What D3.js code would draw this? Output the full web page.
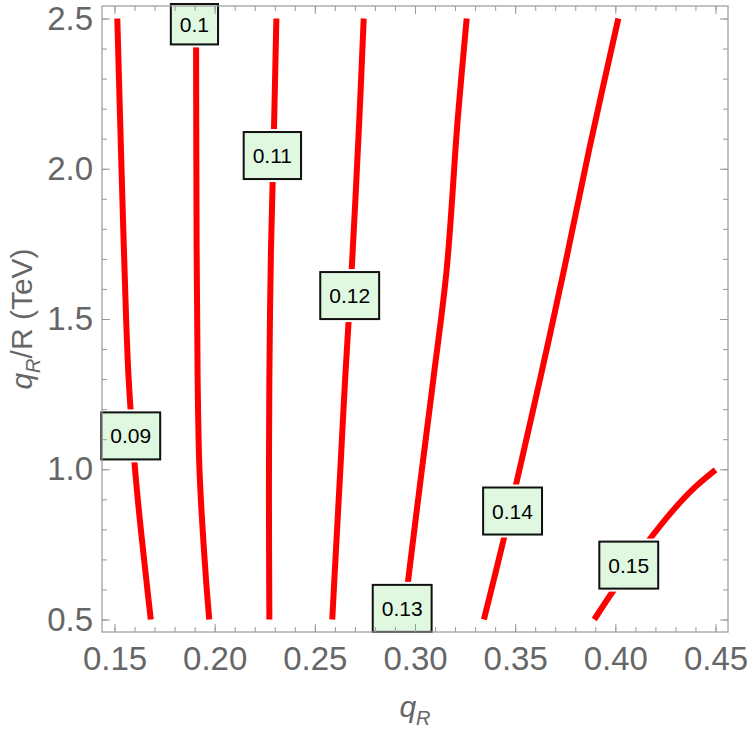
<!DOCTYPE html>
<html>
<head>
<meta charset="utf-8">
<title>contours in q_R vs q_R/R</title>
<script src="https://cdn.jsdelivr.net/npm/d3@7"></script>
<style>
  body { margin: 0; background: #fff; }
  svg { display: block; font-family: "Liberation Sans", Arial, sans-serif; }
</style>
</head>
<body>
<svg id="chart" width="750" height="730"></svg>
<script>
// contour lines: [q_R, q_R/R (TeV)]
var c009 = [[0.1681,0.5],[0.1659,0.631],[0.1641,0.741],[0.1623,0.854],[0.1600,1.021],[0.1571,1.297],[0.1558,1.5],[0.1547,1.73],[0.1535,2.0],[0.1514,2.5]]
var c010 = [[0.1973,0.5],[0.1957,0.631],[0.1935,0.854],[0.1923,1.02],[0.1915,1.297],[0.1910,1.73],[0.1907,2.5]]
var c011 = [[0.2273,0.5],[0.2271,0.9],[0.2273,1.3],[0.2281,1.73],[0.2296,2.13],[0.2308,2.5]]
var c012 = [[0.2587,0.5],[0.2600,0.664],[0.2629,1.02],[0.2651,1.297],[0.2684,1.664],[0.2722,2.163],[0.2744,2.5]]
var c013 = [[0.2943,0.5],[0.2972,0.664],[0.3034,0.997],[0.3091,1.297],[0.3158,1.664],[0.3213,2.163],[0.3258,2.5]]
var c014 = [[0.3344,0.5],[0.3442,0.765],[0.3504,0.948],[0.3629,1.314],[0.3744,1.664],[0.3869,2.063],[0.4015,2.5]]
var c015 = [[0.3895,0.5],[0.3992,0.598],[0.4150,0.748],[0.4289,0.864],[0.4394,0.938],[0.4500,0.998]]
var contours = [c009, c010, c011, c012, c013, c014, c015]

// contour labels and where they sit
var labelText = ["0.09", "0.1", "0.11", "0.12", "0.13", "0.14", "0.15"]
var labelQ = [0.1581, 0.1899, 0.2288, 0.2674, 0.2936, 0.3487, 0.4067]
var labelY = [1.111, 2.492, 2.044, 1.578, 0.537, 0.861, 0.681]

var xMajor = [0.15, 0.20, 0.25, 0.30, 0.35, 0.40, 0.45]
var yMajor = [0.5, 1.0, 1.5, 2.0, 2.5]
var xMinor = d3.range(15, 46).map(function (d) { return d / 100 })
var yMinor = d3.range(5, 26).map(function (d) { return d / 10 })

var frame = { l: 102, t: 6, r: 728, b: 632 }
  , pad = 12.5
  , axisGray = '#9a9a9a'
  , labelGray = '#666'

var svg = d3.select('#chart')

var x = d3.scaleLinear().domain([0.15, 0.45]).range([frame.l + pad, frame.r - pad])
var y = d3.scaleLinear().domain([0.5, 2.5]).range([frame.b - pad, frame.t + pad])

svg.append('rect')
  .attr('x', frame.l).attr('y', frame.t)
  .attr('width', frame.r - frame.l).attr('height', frame.b - frame.t)
  .attr('fill', '#fff')

// curves
var line = d3.line()
  .x(function (d) { return x(d[0]) })
  .y(function (d) { return y(d[1]) })
  .curve(d3.curveCatmullRom.alpha(0.5))

svg.append('g').selectAll('path').data(contours).enter().append('path')
  .attr('d', line)
  .attr('fill', 'none')
  .attr('stroke', '#ff0000')
  .attr('stroke-width', 6)

// labels: box sized from the text, gap cut into the line
var labels = svg.append('g')
labelText.forEach(function (t, i) {
  var g = labels.append('g')
  var cx = x(labelQ[i]), cy = y(labelY[i])
  var top = Math.max(cy - 23.5, 4), bot = cy + 23.5
  var mid = (top + bot) / 2
  var txt = g.append('text')
    .attr('x', cx).attr('y', mid + 7.5)
    .attr('text-anchor', 'middle')
    .attr('font-size', 21)
    .attr('fill', '#000')
    .text(t)
  var w = txt.node().getComputedTextLength() + 18
  g.insert('rect', 'text')
    .attr('x', cx - w / 2 - 3).attr('y', top - 3)
    .attr('width', w + 6).attr('height', bot - top + 6)
    .attr('fill', '#fff')
  g.insert('rect', 'text')
    .attr('x', cx - w / 2 + 1.5).attr('y', top + 1.5)
    .attr('width', w).attr('height', bot - top)
    .attr('fill', '#eaf8ea')
  g.insert('rect', 'text')
    .attr('x', cx - w / 2).attr('y', top)
    .attr('width', w).attr('height', bot - top)
    .attr('fill', '#e0f8e0')
    .attr('stroke', '#111')
    .attr('stroke-width', 2)
})

// frame + ticks
function styleAxis(g, withText) {
  g.select('.domain').remove()
  g.attr('color', axisGray)
  if (withText) g.selectAll('text')
    .attr('fill', labelGray)
    .attr('font-size', 33)
    .attr('font-family', '"Liberation Sans", Arial, sans-serif')
}

svg.append('g').attr('transform', 'translate(0,' + frame.b + ')')
  .call(d3.axisBottom(x).tickValues(xMinor).tickFormat('').tickSizeInner(-5).tickSizeOuter(0))
  .call(styleAxis, false)
svg.append('g').attr('transform', 'translate(0,' + frame.b + ')')
  .call(d3.axisBottom(x).tickValues(xMajor).tickFormat(d3.format('.2f')).tickSizeInner(-8).tickSizeOuter(0).tickPadding(15))
  .call(styleAxis, true)
svg.append('g').attr('transform', 'translate(0,' + frame.t + ')')
  .call(d3.axisTop(x).tickValues(xMinor).tickFormat('').tickSizeInner(-5).tickSizeOuter(0))
  .call(styleAxis, false)
svg.append('g').attr('transform', 'translate(0,' + frame.t + ')')
  .call(d3.axisTop(x).tickValues(xMajor).tickFormat('').tickSizeInner(-8).tickSizeOuter(0))
  .call(styleAxis, false)

svg.append('g').attr('transform', 'translate(' + frame.l + ',0)')
  .call(d3.axisLeft(y).tickValues(yMinor).tickFormat('').tickSizeInner(-5).tickSizeOuter(0))
  .call(styleAxis, false)
svg.append('g').attr('transform', 'translate(' + frame.l + ',0)')
  .call(d3.axisLeft(y).tickValues(yMajor).tickFormat(d3.format('.1f')).tickSizeInner(-8).tickSizeOuter(0).tickPadding(9))
  .call(styleAxis, true)
svg.append('g').attr('transform', 'translate(' + frame.r + ',0)')
  .call(d3.axisRight(y).tickValues(yMinor).tickFormat('').tickSizeInner(-5).tickSizeOuter(0))
  .call(styleAxis, false)
svg.append('g').attr('transform', 'translate(' + frame.r + ',0)')
  .call(d3.axisRight(y).tickValues(yMajor).tickFormat('').tickSizeInner(-8).tickSizeOuter(0))
  .call(styleAxis, false)

svg.append('rect')
  .attr('x', frame.l).attr('y', frame.t)
  .attr('width', frame.r - frame.l).attr('height', frame.b - frame.t)
  .attr('fill', 'none').attr('stroke', axisGray).attr('stroke-width', 1.2)

// axis titles
var xt = svg.append('text')
  .attr('x', (frame.l + frame.r) / 2).attr('y', 717)
  .attr('text-anchor', 'middle')
  .attr('font-size', 30).attr('fill', labelGray)
xt.append('tspan').attr('font-style', 'italic').text('q')
xt.append('tspan').attr('font-style', 'italic').attr('font-size', 20).attr('dy', 8).text('R')

var yt = svg.append('text')
  .attr('transform', 'translate(32,' + (frame.t + frame.b) / 2 + ') rotate(-90)')
  .attr('text-anchor', 'middle')
  .attr('font-size', 30).attr('fill', labelGray)
yt.append('tspan').attr('font-style', 'italic').text('q')
yt.append('tspan').attr('font-style', 'italic').attr('font-size', 20).attr('dy', 8).text('R')
yt.append('tspan').attr('dy', -8).text('/R (TeV)')
</script>
</body>
</html>
